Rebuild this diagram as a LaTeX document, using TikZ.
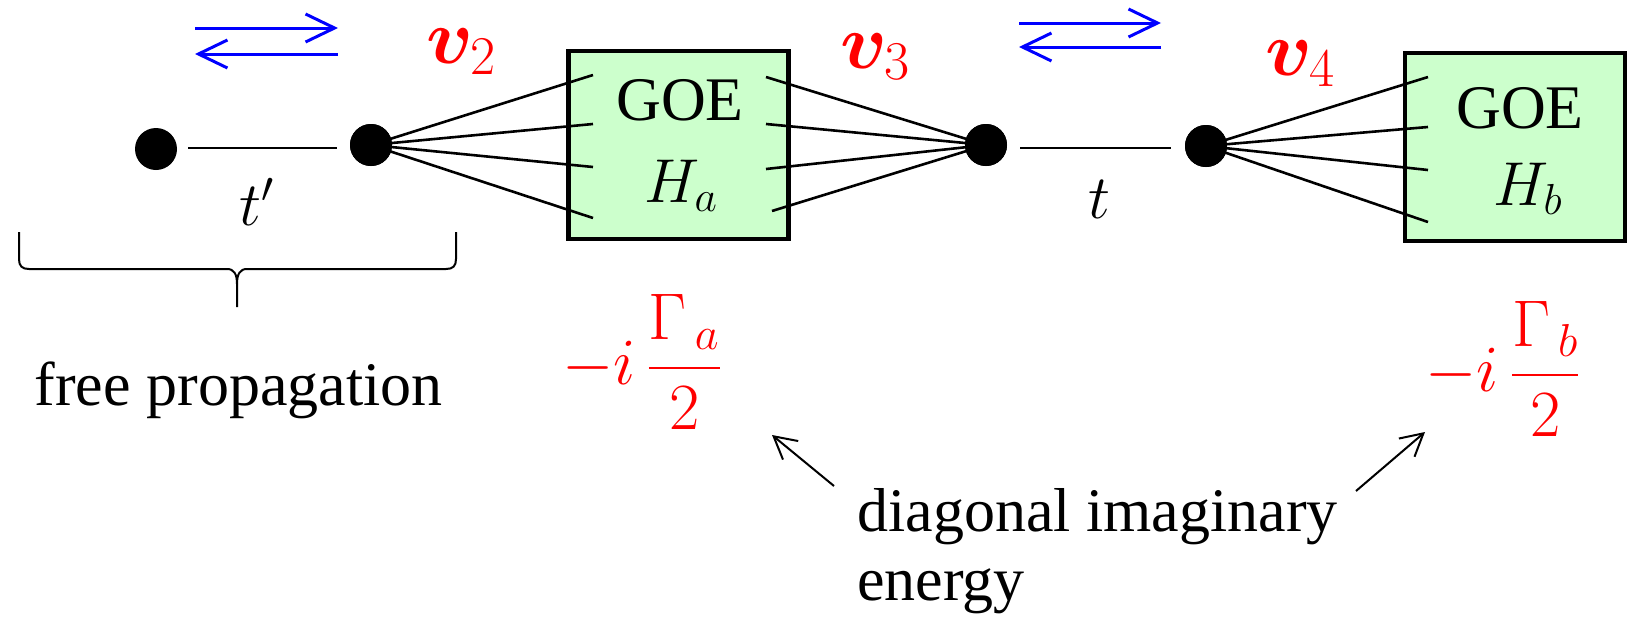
\documentclass[tikz,border=0pt]{standalone}
\usepackage{fix-cm}
\usepackage{amsmath}
\usepackage{bm}
\usepackage[no-math]{fontspec}
\setmainfont{Liberation Serif}
\usetikzlibrary{arrows.meta}
\definecolor{goegreen}{RGB}{204,255,204}
\begin{document}
\begin{tikzpicture}[x=0.5pt,y=-0.5pt,
  every node/.style={font=\fontsize{31}{34}\selectfont,inner sep=0pt},
  dot/.style={circle,fill=black,inner sep=0pt,minimum size=21pt},
  goebox/.style={draw,line width=2.2pt,fill=goegreen,minimum width=110pt,minimum height=94pt,inner sep=0pt},
  fan/.style={line width=1.3pt},
  hop/.style={line width=1.3pt},
  flow/.style={blue,line width=1.5pt,-{Straight Barb[length=14.5pt,width=14pt,line width=1.5pt]}},
  pointer/.style={line width=1pt,-{Straight Barb[length=11pt,width=12pt,line width=1pt]}},
  lbl/.style={text=red,anchor=base west,font=\fontsize{39}{44}\selectfont},
  gam/.style={text=red,anchor=base,font=\fontsize{33}{38}\selectfont}]
\useasboundingbox (0,0) rectangle (1634,627);
% boxes
\node[goebox] (ba) at (678.5,145) {};
\node[goebox] (bb) at (1515,147) {};
\node[anchor=base] (goea) at (680,120) {GOE};
\node[anchor=base] (ha) at (681,202) {$H_a$};
\node[anchor=base] (goeb) at (1520,128) {GOE};
\node[anchor=base] (hb) at (1528,205) {$H_b$};
% dots
\node[dot] (d1) at (156,149) {};
\node[dot] (d2) at (371,145) {};
\node[dot] (d3) at (986,145) {};
\node[dot] (d4) at (1206,146) {};
% fan end points
\coordinate (a1) at (593,75);
\coordinate (a2) at (593,124);
\coordinate (a3) at (593,167);
\coordinate (a4) at (593,218);
\coordinate (r1) at (766,77);
\coordinate (r2) at (766,124);
\coordinate (r3) at (766,169);
\coordinate (r4) at (772,211);
\coordinate (b1) at (1428,77);
\coordinate (b2) at (1428,127);
\coordinate (b3) at (1428,170);
\coordinate (b4) at (1428,222);
\foreach \p in {a1,a2,a3,a4} \draw[fan] (d2.center) -- (\p);
\foreach \p in {r1,r2,r3,r4} \draw[fan] (\p) -- (d3.center);
\foreach \p in {b1,b2,b3,b4} \draw[fan] (d4.center) -- (\p);
% redraw dots on top
\node[dot] at (d2) {};
\node[dot] at (d3) {};
\node[dot] at (d4) {};
% hopping lines
\draw[hop] ([xshift=5.5pt]d1.east |- 0,148) -- ([xshift=-6.5pt]d2.west |- 0,148);
\draw[hop] ([xshift=6.5pt]d3.east |- 0,148) -- ([xshift=-7pt]d4.west |- 0,148);
\node[anchor=base] (tp) at (257,225) {$t'$};
\node[anchor=base] (tt) at (1099,218) {$t$};
% labels v
\node[lbl] (v2) at (426,63) {$\bm{v}_2$};
\node[lbl] (v3) at (840,68) {$\bm{v}_3$};
\node[lbl] (v4) at (1265,75) {$\bm{v}_4$};
% blue arrows
\coordinate (p1l) at (195,28); \coordinate (p1r) at (338,28);
\coordinate (p2l) at (195,54); \coordinate (p2r) at (338,54);
\coordinate (q1l) at (1019,23); \coordinate (q1r) at (1161,23);
\coordinate (q2l) at (1019,47); \coordinate (q2r) at (1161,47);
\draw[flow] (p1l) -- (p1r);
\draw[flow] (p2r) -- (p2l);
\draw[flow] (q1l) -- (q1r);
\draw[flow] (q2r) -- (q2l);
% brace
\draw[line width=1pt] (19,232) -- (19,259) .. controls (19,266) and (22,269) .. (29,269) -- (227,269) .. controls (234,269) and (237,274) .. (237,284) -- (237,307);
\draw[line width=1pt] (456,232) -- (456,259) .. controls (456,266) and (453,269) .. (446,269) -- (247,269) .. controls (240,269) and (237,274) .. (237,284);
\node[anchor=base] (free) at (238.5,405) {free propagation};
% gammas
\node[gam] (ga) at (642,384) {$-i\,\dfrac{\Gamma_{\kern4pt a}}{2}$};
\node[gam] (gb) at (1503,391) {$-i\,\dfrac{\Gamma_{\kern4pt b}}{2}$};
% diagonal text
\node[anchor=base west] (diag) at (857,531) {diagonal imaginary};
\node[anchor=base west] (energy) at (857,600) {energy};
\coordinate (tl) at (834,486); \coordinate (hl) at (772,435);
\coordinate (tr) at (1356,491); \coordinate (hr) at (1425,432);
\draw[pointer] (tl) -- (hl);
\draw[pointer] (tr) -- (hr);
\end{tikzpicture}
\end{document}
